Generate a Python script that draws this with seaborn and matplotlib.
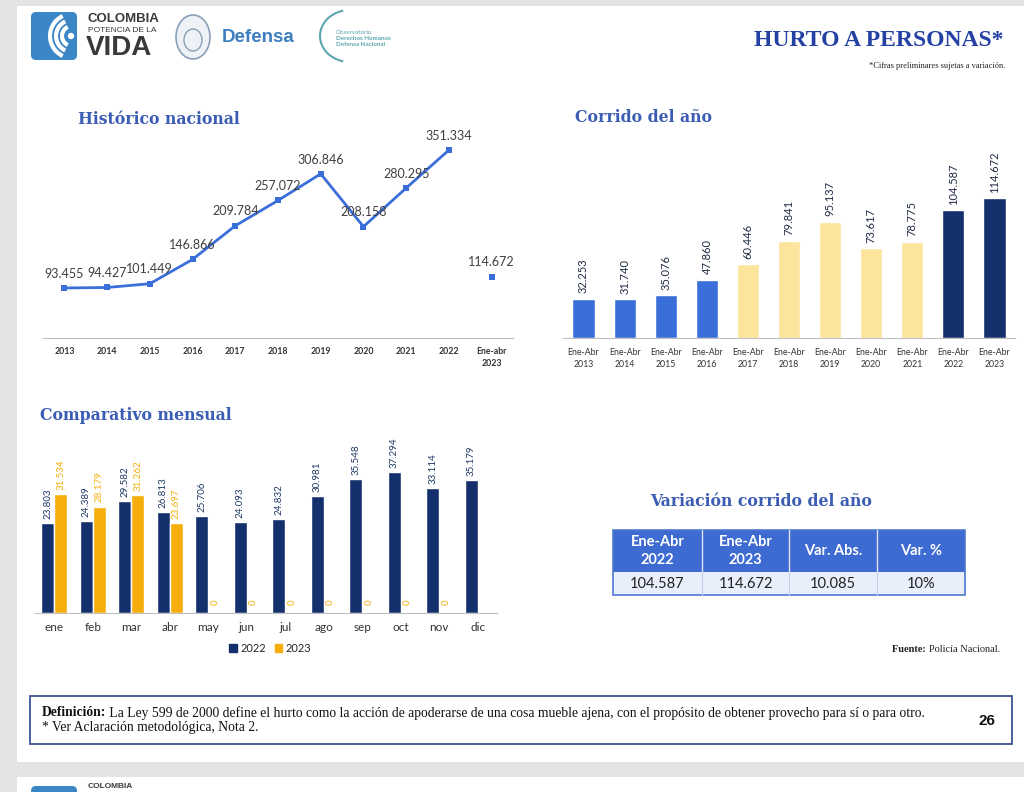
import matplotlib
matplotlib.use("Agg")
import matplotlib.pyplot as plt
import matplotlib.patches as mpatches
import pandas as pd
import seaborn as sns

# --- data ---
hist_years = ["2013", "2014", "2015", "2016", "2017", "2018", "2019",
              "2020", "2021", "2022", "Ene-abr\n2023"]
hist_values = [93455, 94427, 101449, 146866, 209784, 257072, 306846,
               208158, 280295, 351334]
hist_partial = 114672

corrido_labels = ["Ene-Abr\n" + str(y) for y in range(2013, 2024)]
corrido_values = [32253, 31740, 35076, 47860, 60446, 79841, 95137,
                  73617, 78775, 104587, 114672]

months = ["ene", "feb", "mar", "abr", "may", "jun", "jul", "ago",
          "sep", "oct", "nov", "dic"]
monthly_2022 = [23803, 24389, 29582, 26813, 25706, 24093, 24832, 30981,
                35548, 37294, 33114, 35179]
monthly_2023 = [31534, 28179, 31262, 23697, 0, 0, 0, 0, 0, 0, 0]  # dic sin dato

var_2022 = 104587
var_2023 = 114672

BLUE = "#3A6FDA"
YELLOW = "#FDE49C"
NAVY = "#13306C"
ORANGE = "#F6AE0C"
TITLE = "#3C5DB4"

W, H = 1024, 792


def fmt(v):
    return f"{int(v):,}".replace(",", ".")


def px_axes(fig, left, top, right, bottom):
    return fig.add_axes([left / W, 1 - bottom / H, (right - left) / W, (bottom - top) / H])


def style_axis(ax, labels, fontsize, bold=False, pad=6.5):
    n = len(labels)
    ax.set_xlim(-0.5, n - 0.5)
    ax.set_xticks(range(n))
    ax.set_xticklabels(labels, fontsize=fontsize, color="#333333",
                       fontweight="bold" if bold else "normal", linespacing=1.45)
    ax.set_xticks([i - 0.5 for i in range(n + 1)], minor=True)
    ax.tick_params(axis="x", which="major", length=0, pad=pad)
    ax.tick_params(axis="x", which="minor", length=3, color="#bfbfbf", direction="out")
    ax.set_yticks([])
    ax.set_xlabel("")
    ax.set_ylabel("")
    for s in ["top", "right", "left"]:
        ax.spines[s].set_visible(False)
    ax.spines["bottom"].set_color("#bfbfbf")
    ax.set_facecolor("none")


sns.set_style("white")
plt.rcParams["font.family"] = ["Lato", "DejaVu Sans"]

fig = plt.figure(figsize=(W / 100, H / 100), dpi=100, facecolor="#e4e4e6")

# background / page in pixel coordinates
bg = fig.add_axes([0, 0, 1, 1])
bg.set_xlim(0, W)
bg.set_ylim(H, 0)
bg.axis("off")
bg.set_zorder(-1)
bg.add_patch(mpatches.Rectangle((17, 6), W - 17, 756, fc="white", ec="none"))
bg.add_patch(mpatches.Rectangle((17, 777), W - 17, 30, fc="white", ec="none"))

# logos (approximation)
for top in (12, 786):
    bg.add_patch(mpatches.FancyBboxPatch((31, top), 46, 48, boxstyle="round,pad=0,rounding_size=5",
                                         fc="#3A86C6", ec="none"))
for r in (10, 16, 22):
    bg.add_patch(mpatches.Arc((72, 36), 2 * r, 2 * r, theta1=115, theta2=245, color="white", lw=3))
bg.add_patch(mpatches.Circle((71, 36), 2.5, color="white"))
bg.text(88, 19, "COLOMBIA", fontsize=9.5, fontweight="bold", color="#3a3a3a", va="center",
        family="Liberation Sans")
bg.text(88, 31, "POTENCIA DE LA", fontsize=6, color="#3a3a3a", va="center", family="Liberation Sans")
bg.text(86, 48, "VIDA", fontsize=20, fontweight="bold", color="#3a3a3a", va="center",
        family="Liberation Sans")
bg.text(88, 786, "COLOMBIA", fontsize=6, fontweight="bold", color="#3a3a3a", va="center",
        family="Liberation Sans")
bg.add_patch(mpatches.Ellipse((193, 37), 34, 44, fc="#eef2f6", ec="#8aa0b8", lw=1.2))
bg.add_patch(mpatches.Ellipse((193, 40), 18, 22, fc="none", ec="#8aa0b8", lw=1))
bg.text(222, 37, "Defensa", fontsize=13.5, fontweight="bold", color="#3D7FBF", va="center",
        family="Liberation Sans")
bg.add_patch(mpatches.Arc((350, 36), 60, 52, theta1=105, theta2=255, color="#5AA5AE", lw=1.5))
bg.text(336, 32, "Observatorio", fontsize=4.5, color="#5AA5AE", va="center")
bg.text(336, 38, "Derechos Humanos", fontsize=4.5, color="#5AA5AE", va="center", fontweight="bold")
bg.text(336, 44, "Defensa Nacional", fontsize=4.5, color="#5AA5AE", va="center", fontweight="bold")

bg.text(1004, 41, "HURTO A PERSONAS*", fontsize=17, fontweight="bold", color="#2442A4",
        ha="right", va="center", family="Liberation Serif")
bg.text(1005, 66, "*Cifras preliminares sujetas a variación.", fontsize=6, color="#222222",
        ha="right", va="center", family="Liberation Serif")

# section titles
title_kw = dict(fontsize=11.3, fontweight="bold", color=TITLE, va="center", family="DejaVu Serif")
bg.text(78, 120, "Histórico nacional", **title_kw)
bg.text(575, 117, "Corrido del año", **title_kw)
bg.text(40, 415, "Comparativo mensual", **title_kw)
bg.text(650, 501, "Variación corrido del año", **title_kw)

# --- Histórico nacional ---
ax1 = px_axes(fig, 43, 124, 513, 338)
xs = list(range(len(hist_values)))
sns.lineplot(x=xs, y=hist_values, ax=ax1, color=BLUE, lw=2, marker="s",
             markersize=5, markeredgewidth=0)
sns.scatterplot(x=[len(hist_values)], y=[hist_partial], ax=ax1, color=BLUE,
                marker="s", s=25, linewidth=0)
for i, v in enumerate(hist_values + [hist_partial]):
    ax1.annotate(fmt(v), (i, v), xytext=(0, 6), textcoords="offset points",
                 ha="center", va="bottom", fontsize=9, color="#404040")
ax1.set_ylim(0, 400000)
style_axis(ax1, hist_years, 6.3, bold=True, pad=6.5)

# --- Corrido del año ---
ax2 = px_axes(fig, 563, 149, 1015, 338)
colors2 = [BLUE] * 4 + [YELLOW] * 5 + [NAVY] * 2
sns.barplot(x=corrido_labels, y=corrido_values, hue=corrido_labels, palette=colors2,
            legend=False, width=0.54, saturation=1, ax=ax2)
for c in ax2.containers:
    ax2.bar_label(c, labels=[fmt(v) for v in c.datavalues], rotation=90, padding=4,
                  fontsize=8, color="#1f2a44")
ax2.set_ylim(0, 155000)
style_axis(ax2, corrido_labels, 6.3, pad=7)

# --- Comparativo mensual ---
ax3 = px_axes(fig, 35, 443, 497, 613)
rows = [(m, "2022", v) for m, v in zip(months, monthly_2022)]
rows += [(m, "2023", v) for m, v in zip(months, monthly_2023)]
df = pd.DataFrame(rows, columns=["mes", "anio", "casos"])
sns.barplot(data=df, x="mes", y="casos", hue="anio", order=months, hue_order=["2022", "2023"],
            palette={"2022": NAVY, "2023": ORANGE}, width=0.68, saturation=1, ax=ax3)
ax3.bar_label(ax3.containers[0], labels=[fmt(v) for v in ax3.containers[0].datavalues],
              rotation=90, padding=3, fontsize=7, color="#1F3864")
vals23 = ax3.containers[1].datavalues
ax3.bar_label(ax3.containers[1], labels=[fmt(v) if v > 0 else "" for v in vals23],
              rotation=90, padding=3, fontsize=7, color=ORANGE)
ax3.bar_label(ax3.containers[1], labels=["0" if v == 0 else "" for v in vals23],
              rotation=90, padding=6, fontsize=7, color=ORANGE)
ax3.set_ylim(0, 45000)
style_axis(ax3, months, 8.5, pad=6.5)
handles = [mpatches.Patch(color=NAVY, label="2022"), mpatches.Patch(color=ORANGE, label="2023")]
ax3.legend(handles=handles, loc="center", bbox_to_anchor=(0.509, -0.206), ncol=2,
           frameon=False, fontsize=8, handlelength=0.7, handleheight=0.7,
           handletextpad=0.3, columnspacing=0.8)

# --- tabla variación ---
col_x = [613, 702, 789, 877, 965]
bg.add_patch(mpatches.Rectangle((613, 530), 352, 42, fc="#3D6BD2", ec="none"))
bg.add_patch(mpatches.Rectangle((613, 572), 352, 23, fc="#E9EFFA", ec="none"))
for x in col_x[1:-1]:
    bg.plot([x, x], [530, 572], color="#dfe6f7", lw=1)
    bg.plot([x, x], [572, 595], color="#c2cfee", lw=0.8)
bg.add_patch(mpatches.Rectangle((613, 530), 352, 65, fc="none", ec="#4F78CF", lw=1.2))
var_abs = var_2023 - var_2022
var_pct = round(var_abs / var_2022 * 100)
header = ["Ene-Abr\n2022", "Ene-Abr\n2023", "Var. Abs.", "Var. %"]
cells = [fmt(var_2022), fmt(var_2023), fmt(var_abs), f"{var_pct}%"]
for i in range(4):
    cx = (col_x[i] + col_x[i + 1]) / 2
    bg.text(cx, 551, header[i], ha="center", va="center", fontsize=10.5, fontweight="bold",
            color="white", linespacing=1.35)
    bg.text(cx, 584, cells[i], ha="center", va="center", fontsize=10.5, color="#222222")

t = bg.text(1000, 650, "Policía Nacional.", fontsize=7.5, ha="right", va="center",
            color="#222222", family="Liberation Serif")
bg.annotate("Fuente: ", xy=(0, 0.5), xycoords=t, ha="right", va="center", fontsize=7.5,
            fontweight="bold", color="#222222", family="Liberation Serif")

# --- nota de definición ---
bg.add_patch(mpatches.Rectangle((30, 696), 982, 48, fc="white", ec="#3A5590", lw=1.3))
t = bg.text(42, 713, "Definición:", fontsize=9.8, fontweight="bold", va="center",
            color="#111111", family="Liberation Serif")
bg.annotate(" La Ley 599 de 2000 define el hurto como la acción de apoderarse de una cosa mueble "
            "ajena, con el propósito de obtener provecho para sí o para otro.",
            xy=(1, 0.5), xycoords=t, va="center", fontsize=9.8, color="#111111",
            family="Liberation Serif")
bg.text(42, 728, "* Ver Aclaración metodológica, Nota 2.", fontsize=9.8, va="center",
        color="#111111", family="Liberation Serif")
bg.text(987, 721, "26", fontsize=11, fontweight="bold", ha="center", va="center",
        color="#111111", family="Liberation Sans")

fig.savefig("out.png", dpi=100, facecolor=fig.get_facecolor())
